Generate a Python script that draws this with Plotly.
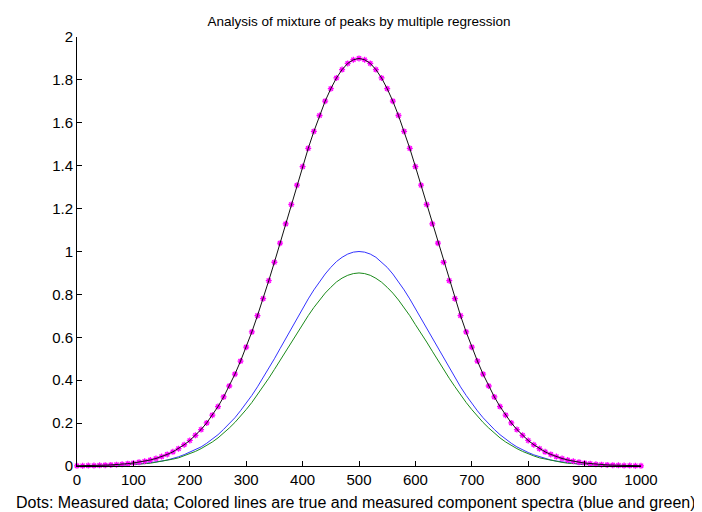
import plotly.graph_objects as go

# wavelength axis, sampled every 10 units
wavelength = list(range(0, 1001, 10))

# measured mixture (dots)
measured = [
    0.001, 0.001, 0.002, 0.002, 0.003, 0.004, 0.005, 0.006, 0.008, 0.011,
    0.014, 0.018, 0.022, 0.028, 0.035, 0.044, 0.054, 0.066, 0.081, 0.099,
    0.119, 0.143, 0.170, 0.201, 0.237, 0.277, 0.322, 0.373, 0.428, 0.489,
    0.554, 0.625, 0.701, 0.780, 0.864, 0.950, 1.039, 1.129, 1.219, 1.309,
    1.396, 1.481, 1.560, 1.634, 1.701, 1.759, 1.809, 1.848, 1.877, 1.894,
    1.900,
    1.894, 1.877, 1.848, 1.809, 1.759, 1.701, 1.634, 1.560, 1.481, 1.396,
    1.309, 1.219, 1.129, 1.039, 0.950, 0.864, 0.780, 0.701, 0.625, 0.554,
    0.489, 0.428, 0.373, 0.322, 0.277, 0.237, 0.201, 0.170, 0.143, 0.119,
    0.099, 0.081, 0.066, 0.054, 0.044, 0.035, 0.028, 0.022, 0.018, 0.014,
    0.011, 0.008, 0.006, 0.005, 0.004, 0.003, 0.002, 0.002, 0.001, 0.001,
]

# fitted sum (black line)
fitted = [
    0.001, 0.001, 0.002, 0.002, 0.003, 0.004, 0.005, 0.006, 0.008, 0.011,
    0.014, 0.018, 0.022, 0.028, 0.035, 0.044, 0.054, 0.066, 0.081, 0.099,
    0.119, 0.143, 0.170, 0.201, 0.237, 0.277, 0.322, 0.373, 0.428, 0.489,
    0.554, 0.625, 0.701, 0.780, 0.864, 0.950, 1.039, 1.129, 1.219, 1.309,
    1.396, 1.481, 1.560, 1.634, 1.701, 1.759, 1.809, 1.848, 1.877, 1.894,
    1.900,
    1.894, 1.877, 1.848, 1.809, 1.759, 1.701, 1.634, 1.560, 1.481, 1.396,
    1.309, 1.219, 1.129, 1.039, 0.950, 0.864, 0.780, 0.701, 0.625, 0.554,
    0.489, 0.428, 0.373, 0.322, 0.277, 0.237, 0.201, 0.170, 0.143, 0.119,
    0.099, 0.081, 0.066, 0.054, 0.044, 0.035, 0.028, 0.022, 0.018, 0.014,
    0.011, 0.008, 0.006, 0.005, 0.004, 0.003, 0.002, 0.002, 0.001, 0.001,
]

# component 1 (blue)
blue = [
    0.000, 0.001, 0.001, 0.001, 0.001, 0.002, 0.003, 0.003, 0.004, 0.006,
    0.007, 0.009, 0.012, 0.015, 0.019, 0.023, 0.028, 0.035, 0.043, 0.053,
    0.064, 0.075, 0.089, 0.106, 0.125, 0.146, 0.171, 0.196, 0.225, 0.258,
    0.292, 0.329, 0.369, 0.411, 0.455, 0.500, 0.547, 0.594, 0.642, 0.689,
    0.735, 0.779, 0.821, 0.860, 0.895, 0.926, 0.953, 0.973, 0.988, 0.997,
    1.000,
    0.997, 0.988, 0.973, 0.951, 0.926, 0.895, 0.860, 0.821, 0.779, 0.733,
    0.689, 0.642, 0.594, 0.547, 0.500, 0.455, 0.411, 0.369, 0.329, 0.292,
    0.257, 0.225, 0.196, 0.170, 0.146, 0.125, 0.106, 0.089, 0.075, 0.063,
    0.052, 0.043, 0.035, 0.028, 0.023, 0.019, 0.015, 0.012, 0.009, 0.007,
    0.006, 0.004, 0.003, 0.003, 0.002, 0.001, 0.001, 0.001, 0.001, 0.000,
]

# component 2 (green)
green = [
    0.000, 0.001, 0.001, 0.001, 0.001, 0.002, 0.002, 0.003, 0.004, 0.005,
    0.007, 0.008, 0.011, 0.013, 0.017, 0.021, 0.026, 0.032, 0.038, 0.047,
    0.056, 0.068, 0.081, 0.095, 0.112, 0.131, 0.153, 0.177, 0.203, 0.232,
    0.263, 0.296, 0.332, 0.370, 0.409, 0.450, 0.492, 0.535, 0.578, 0.620,
    0.661, 0.701, 0.739, 0.774, 0.806, 0.833, 0.858, 0.876, 0.889, 0.897,
    0.900,
    0.897, 0.889, 0.875, 0.857, 0.833, 0.806, 0.774, 0.739, 0.701, 0.659,
    0.620, 0.578, 0.535, 0.492, 0.450, 0.409, 0.370, 0.332, 0.296, 0.263,
    0.232, 0.203, 0.177, 0.153, 0.131, 0.112, 0.095, 0.081, 0.068, 0.056,
    0.047, 0.038, 0.032, 0.026, 0.021, 0.017, 0.013, 0.011, 0.008, 0.007,
    0.005, 0.004, 0.003, 0.002, 0.002, 0.001, 0.001, 0.001, 0.001, 0.000,
]

x_ticks = list(range(0, 1001, 100))
y_ticks = [0, 0.2, 0.4, 0.6, 0.8, 1, 1.2, 1.4, 1.6, 1.8, 2]
y_labels = ["0", "0.2", "0.4", "0.6", "0.8", "1", "1.2", "1.4", "1.6", "1.8", "2"]

FONT = "Liberation Sans, Arial, sans-serif"
caption = "Dots: Measured data; Colored lines are true and measured component spectra (blue and green)"

fig = go.Figure()
fig.add_trace(go.Scatter(x=wavelength, y=blue, mode="lines",
                         line=dict(color="#3333ff", width=1), cliponaxis=False))
fig.add_trace(go.Scatter(x=wavelength, y=green, mode="lines",
                         line=dict(color="#1a8a1a", width=1), cliponaxis=False))
fig.add_trace(go.Scatter(x=wavelength, y=measured, mode="markers",
                         marker=dict(symbol="asterisk-open", size=5, color="#ff00ff",
                                     line=dict(color="#ff00ff", width=1.3)),
                         cliponaxis=False))
# fit line drawn over the dots, as in the original
fig.add_trace(go.Scatter(x=wavelength, y=fitted, mode="lines",
                         line=dict(color="#111111", width=1), cliponaxis=False))

# page body adds an 8px offset, so margins are set 8px smaller on left/top
fig.update_layout(
    width=702, height=512,
    margin=dict(l=69, r=69, t=29, b=54),
    paper_bgcolor="white", plot_bgcolor="white",
    showlegend=False,
    font=dict(family=FONT, size=15, color="black"),
    title=dict(text="Analysis of mixture of peaks by multiple regression",
               x=0.5, xanchor="center", y=1 - 13 / 512, yanchor="middle",
               font=dict(family=FONT, size=13.5, color="black")),
)
# caption placed as annotation so it can sit a bit left of the axis centre
fig.add_annotation(text=caption, xref="paper", yref="paper", x=0.4947, y=0,
                   xanchor="center", yanchor="middle", yshift=-36, showarrow=False,
                   font=dict(family=FONT, size=16, color="black"))
fig.update_xaxes(
    range=[0, 1000], tickvals=x_ticks, ticks="inside", ticklen=5, tickcolor="black",
    showline=True, linecolor="black", linewidth=1, showgrid=False, zeroline=False,
    mirror=False, tickfont=dict(size=15),
)
fig.update_yaxes(
    range=[0, 2], tickvals=y_ticks, ticktext=y_labels, ticks="inside", ticklen=5,
    tickcolor="black", showline=True, linecolor="black", linewidth=1, showgrid=False,
    zeroline=False, mirror=False, tickfont=dict(size=15),
)

fig.write_html("out.html")
